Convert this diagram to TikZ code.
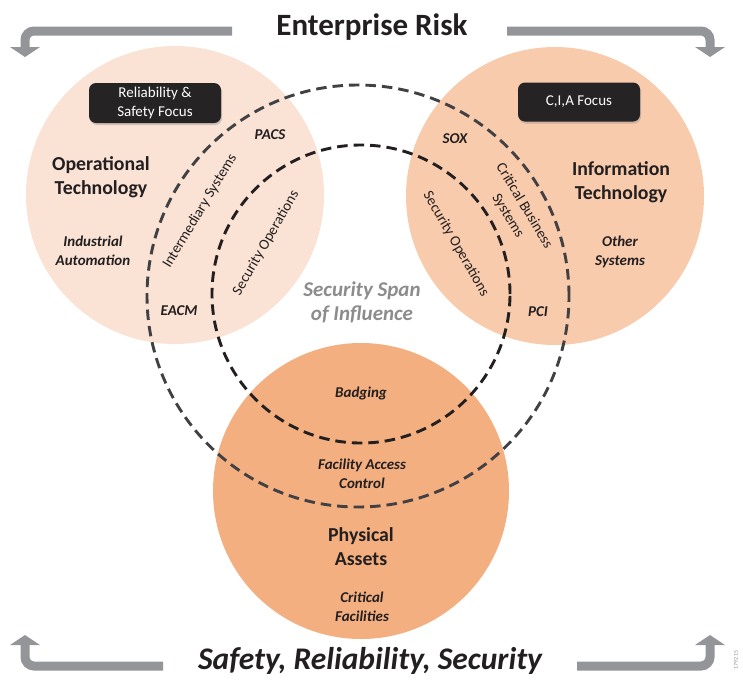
\documentclass[tikz,border=0pt]{standalone}
\usepackage{fontspec}
\setmainfont{Carlito}
\usetikzlibrary{shadows}
\definecolor{otfill}{HTML}{FAE3D5}
\definecolor{itfill}{HTML}{F8CBAD}
\definecolor{pafill}{HTML}{F3AF80}
\definecolor{arrowgray}{HTML}{939598}
\definecolor{boxdark}{HTML}{262324}
\definecolor{dashgray}{HTML}{414042}
\definecolor{spangray}{HTML}{8C8C8C}
\definecolor{txt}{HTML}{231F20}
\begin{document}
\begin{tikzpicture}[x=1pt,y=-1pt,
  disc/.style={circle, inner sep=0pt, minimum size=298pt, draw=none},
  outerdash/.style={circle, inner sep=0pt, draw=dashgray, line width=2.9pt, dash pattern=on 10.5pt off 6pt},
  innerdash/.style={circle, inner sep=0pt, draw=txt, line width=2.9pt, dash pattern=on 10.5pt off 6pt},
  bar/.style={draw=arrowgray, line width=9pt, rounded corners=9pt},
  head/.style={fill=arrowgray},
  darkbox/.style={fill=boxdark, text=white, rounded corners=7pt, align=center,
    font=\fontsize{15}{19}\selectfont, inner sep=0pt,
    drop shadow={opacity=0.35, shadow xshift=1pt, shadow yshift=-2pt}},
  bigtitle/.style={text=txt, font=\fontsize{31}{34}\selectfont\bfseries},
  domname/.style={text=txt, align=center, font=\fontsize{19.8}{24}\selectfont\bfseries},
  lbl/.style={text=txt, align=center, font=\fontsize{15}{18.5}\selectfont\bfseries\itshape},
  arclbl/.style={text=txt, align=center, font=\fontsize{14.8}{19}\selectfont}
]
\useasboundingbox (0,0) rectangle (743,681);

% circles
\node[disc, fill=otfill] (ot) at (175,195) {};
\node[disc, fill=itfill] (it) at (555,196) {};
\node[disc, fill=pafill, minimum size=296pt] (pa) at (361,491) {};

% dashed circles
\node[outerdash, minimum size=422pt] (outer) at (358,296) {};
\node[innerdash, minimum size=298pt] (inner) at (361,294) {};

% arrows
\draw[bar] (232,31) -- (25,31) -- (25,48);
\fill[head] (10,47) -- (40,47) -- (25,57) -- cycle;
\draw[bar] (507,31) -- (710,31) -- (710,48);
\fill[head] (695,47) -- (725,47) -- (710,57) -- cycle;
\draw[bar] (163,666) -- (25,666) -- (25,644);
\fill[head] (10,645) -- (40,645) -- (25,635) -- cycle;
\draw[bar] (577,666) -- (710,666) -- (710,644);
\fill[head] (695,645) -- (725,645) -- (710,635) -- cycle;

% titles
\node[bigtitle] (title) at (372,27) {Enterprise Risk};
\node[bigtitle, font=\fontsize{31.5}{34}\selectfont\bfseries\itshape] (subtitle) at (370,661) {Safety, Reliability, Security};

% boxes
\node[darkbox, minimum width=132pt, minimum height=40pt] (rsbox) at (155,103) {Reliability \&\\Safety Focus};
\node[darkbox, minimum width=122pt, minimum height=39pt] (ciabox) at (579,102) {C,I,A Focus};

% domain names
\node[domname] (otname) at (101,177) {Operational\\Technology};
\node[domname] (itname) at (621,182) {Information\\Technology};
\node[domname] (paname) at (361,547) {Physical\\Assets};

% labels
\node[lbl] (indaut) at (93,251) {Industrial\\Automation};
\node[lbl] (other) at (620,252) {Other\\Systems};
\node[lbl] (crit) at (362,607) {Critical\\Facilities};
\node[lbl] (fac) at (362,474) {Facility Access\\Control};
\node[lbl] (badg) at (361,393) {Badging};
\node[lbl] (eacm) at (179,311) {EACM};
\node[lbl] (pci) at (538,312) {PCI};
\node[lbl] (pacs) at (270,135) {PACS};
\node[lbl] (sox) at (455,139) {SOX};
\node[lbl, text=spangray, font=\fontsize{21}{24}\selectfont\bfseries\itshape] (span) at (362,302) {Security Span\\of Influence};

% arc labels
\node[arclbl, rotate=59] (inter) at (200,211) {Intermediary Systems};
\node[arclbl, rotate=60] (secl) at (266,243) {Security Operations};
\node[arclbl, rotate=-60] (secr) at (456,244) {Security Operations};
\node[arclbl, rotate=-59] (cbs) at (516,211) {Critical Business\\Systems};

% id
\node[text=arrowgray, rotate=90, font=\fontsize{6}{7}\selectfont] (id) at (736,660) {179215};
\end{tikzpicture}
\end{document}
